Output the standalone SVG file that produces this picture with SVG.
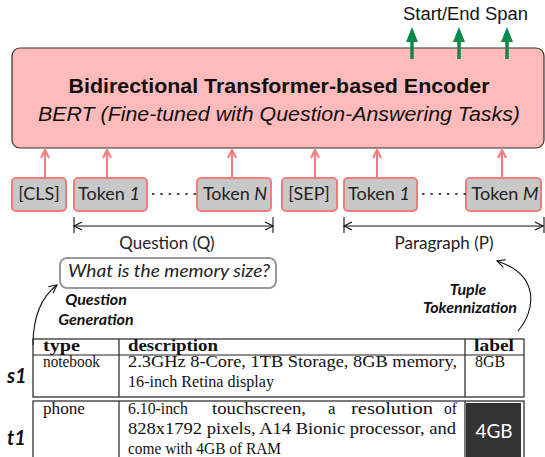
<svg xmlns="http://www.w3.org/2000/svg" width="545" height="457" viewBox="0 0 545 457">
<style>
.sans{font-family:"Liberation Sans",Arial,sans-serif;}
.hum{font-family:Lato,"Noto Sans",sans-serif;}
.ser{font-family:"Liberation Serif","DejaVu Serif",serif;font-size:16px;fill:#111;}
.tok rect{fill:#c8c8c8;stroke:#f27c7c;stroke-width:2;}
.tok text{font-family:Lato,"Noto Sans",sans-serif;font-size:18px;fill:#222;text-anchor:middle;}
.pink{stroke:#f27c7c;stroke-width:2;fill:none;}
.green{stroke:#0b8a4a;stroke-width:3.5;fill:none;}
.dim{stroke:#111;stroke-width:1.1;fill:none;}
.tbl{stroke:#222;stroke-width:1.2;fill:none;}
.bi{font-family:Lato,"Noto Sans",sans-serif;font-weight:bold;font-style:italic;fill:#111;}
</style>
<defs>
<marker id="ph" markerUnits="userSpaceOnUse" markerWidth="12" markerHeight="12" refX="9" refY="6" orient="auto"><path d="M1,2 L9,6 L1,10" fill="none" stroke="#f27c7c" stroke-width="2"/></marker>
<marker id="gh" markerUnits="userSpaceOnUse" markerWidth="16" markerHeight="14" refX="6" refY="6" orient="auto"><path d="M0,0 L15,6 L0,12 z" fill="#0b8a4a"/></marker>
<marker id="dh" markerUnits="userSpaceOnUse" markerWidth="12" markerHeight="12" refX="9" refY="6" orient="auto-start-reverse"><path d="M1,2 L9,6 L1,10" fill="none" stroke="#111" stroke-width="1.1"/></marker>
<marker id="ch" markerUnits="userSpaceOnUse" markerWidth="12" markerHeight="12" refX="9" refY="6" orient="auto"><path d="M1,2 L9,6 L1,10" fill="none" stroke="#111" stroke-width="1.1"/></marker>
</defs>

<text class="sans" x="403" y="20" font-size="17.5" textLength="125" lengthAdjust="spacingAndGlyphs" fill="#111">Start/End Span</text>

<g id="encoder">
<rect x="12" y="48" width="532" height="100" rx="8" fill="#ffbbbb" stroke="#333" stroke-width="1.2"/>
<text class="sans" x="279" y="93" font-size="20" font-weight="bold" text-anchor="middle" textLength="421" lengthAdjust="spacingAndGlyphs" fill="#111">Bidirectional Transformer-based Encoder</text>
<text class="sans" x="279" y="121" font-size="20" font-style="italic" text-anchor="middle" textLength="482" lengthAdjust="spacingAndGlyphs" fill="#111">BERT (Fine-tuned with Question-Answering Tasks)</text>
</g>

<g id="tok-cls" class="tok"><rect x="12" y="178" width="54" height="33" rx="4"/><text x="39" y="200">[CLS]</text></g>
<g id="tok-q1" class="tok"><rect x="74" y="178" width="73" height="33" rx="4"/><text x="109" y="200">Token <tspan font-style="italic">1</tspan></text></g>
<g id="tok-qn" class="tok"><rect x="197" y="178" width="74" height="33" rx="4"/><text x="235" y="200">Token <tspan font-style="italic">N</tspan></text></g>
<g id="tok-sep" class="tok"><rect x="282" y="178" width="55" height="33" rx="4"/><text x="309" y="200">[SEP]</text></g>
<g id="tok-p1" class="tok"><rect x="344" y="178" width="73" height="33" rx="4"/><text x="379" y="200">Token <tspan font-style="italic">1</tspan></text></g>
<g id="tok-pm" class="tok"><rect x="466" y="178" width="75" height="33" rx="4"/><text x="505" y="200">Token <tspan font-style="italic">M</tspan></text></g>

<g id="question">
<rect x="60" y="258" width="216" height="30" rx="7" fill="#fff" stroke="#999" stroke-width="2"/>
<text class="hum" x="68" y="277" font-size="18" font-style="italic" fill="#222" textLength="202" lengthAdjust="spacingAndGlyphs">What is the memory size?</text>
</g>

<g id="labels">
<text class="hum" x="167" y="249" font-size="17" text-anchor="middle" fill="#222">Question (Q)</text>
<text class="hum" x="444" y="249" font-size="17" text-anchor="middle" fill="#222">Paragraph (P)</text>
<text class="bi" x="96" y="305" font-size="16" text-anchor="middle">Question</text>
<text class="bi" x="96" y="325" font-size="16" text-anchor="middle">Generation</text>
<text class="bi" x="468" y="295" font-size="16" text-anchor="middle">Tuple</text>
<text class="bi" x="470" y="313" font-size="16" text-anchor="middle">Tokennization</text>
<text class="bi" x="7" y="383" font-size="20">s1</text>
<text class="bi" x="7" y="445" font-size="20">t1</text>
</g>

<g id="connectors">
<line class="green" x1="412" y1="59" x2="412" y2="36" marker-end="url(#gh)"/>
<line class="green" x1="459" y1="59" x2="459" y2="36" marker-end="url(#gh)"/>
<line class="green" x1="507" y1="59" x2="507" y2="36" marker-end="url(#gh)"/>
<line class="pink" x1="45" y1="178" x2="45" y2="150" marker-end="url(#ph)"/>
<line class="pink" x1="107" y1="178" x2="107" y2="150" marker-end="url(#ph)"/>
<line class="pink" x1="232" y1="178" x2="232" y2="150" marker-end="url(#ph)"/>
<line class="pink" x1="315" y1="178" x2="315" y2="150" marker-end="url(#ph)"/>
<line class="pink" x1="377" y1="178" x2="377" y2="150" marker-end="url(#ph)"/>
<line class="pink" x1="502" y1="178" x2="502" y2="150" marker-end="url(#ph)"/>
<line x1="148" y1="194" x2="197" y2="194" stroke="#111" stroke-width="1.7" stroke-dasharray="2.5 5.8" stroke-dashoffset="-4"/>
<line x1="418" y1="194" x2="466" y2="194" stroke="#111" stroke-width="1.7" stroke-dasharray="2.5 5.8" stroke-dashoffset="-4"/>
<line class="dim" x1="74" y1="226" x2="273" y2="226" marker-start="url(#dh)" marker-end="url(#dh)"/>
<line class="dim" x1="74" y1="217" x2="74" y2="233"/>
<line class="dim" x1="273" y1="217" x2="273" y2="233"/>
<line class="dim" x1="344" y1="226" x2="543" y2="226" marker-start="url(#dh)" marker-end="url(#dh)"/>
<line class="dim" x1="344" y1="217" x2="344" y2="233"/>
<line class="dim" x1="544" y1="217" x2="544" y2="233"/>
<path class="dim" d="M33,345 C33,318 40,298 57,285" marker-end="url(#ch)"/>
<path class="dim" d="M518,331 C536,310 540,275 497,261" marker-end="url(#ch)"/>
</g>

<g id="table-s1">
<rect class="tbl" x="33" y="339" width="491" height="58" stroke-width="1.4"/>
<line class="tbl" x1="33" y1="355" x2="524" y2="355"/>
<line class="tbl" x1="119" y1="339" x2="119" y2="397"/>
<line class="tbl" x1="465" y1="339" x2="465" y2="397"/>
<text class="ser" x="43" y="351" font-weight="bold" textLength="37" lengthAdjust="spacingAndGlyphs">type</text>
<text class="ser" x="128" y="351" font-weight="bold" textLength="90" lengthAdjust="spacingAndGlyphs">description</text>
<text class="ser" x="474" y="351" font-weight="bold" textLength="40" lengthAdjust="spacingAndGlyphs">label</text>
<text class="ser" x="43" y="367" textLength="57" lengthAdjust="spacingAndGlyphs">notebook</text>
<text class="ser" x="128" y="367" textLength="329" lengthAdjust="spacingAndGlyphs">2.3GHz 8-Core, 1TB Storage, 8GB memory,</text>
<text class="ser" x="128" y="387" textLength="146" lengthAdjust="spacingAndGlyphs">16-inch Retina display</text>
<text class="ser" x="475" y="367" textLength="30" lengthAdjust="spacingAndGlyphs">8GB</text>
</g>

<g id="table-t1">
<rect class="tbl" x="33" y="401" width="491" height="70"/>
<line class="tbl" x1="119" y1="401" x2="119" y2="457"/>
<line class="tbl" x1="465" y1="401" x2="465" y2="457"/>
<rect x="466" y="403" width="55" height="60" fill="#333"/>
<text class="ser" x="43" y="414" textLength="42" lengthAdjust="spacingAndGlyphs">phone</text>
<text class="ser" x="128" y="414" textLength="60" lengthAdjust="spacingAndGlyphs">6.10-inch</text>
<text class="ser" x="212" y="414" textLength="94" lengthAdjust="spacingAndGlyphs">touchscreen,</text>
<text class="ser" x="328" y="414" textLength="7.5" lengthAdjust="spacingAndGlyphs">a</text>
<text class="ser" x="351" y="414" textLength="82" lengthAdjust="spacingAndGlyphs">resolution</text>
<text class="ser" x="444" y="414" textLength="13" lengthAdjust="spacingAndGlyphs">of</text>
<text class="ser" x="128" y="434" textLength="328" lengthAdjust="spacingAndGlyphs">828x1792 pixels, A14 Bionic processor, and</text>
<text class="ser" x="128" y="454" textLength="153" lengthAdjust="spacingAndGlyphs">come with 4GB of RAM</text>
<text class="hum" x="494" y="438" font-size="19" text-anchor="middle" fill="#fff">4GB</text>
</g>
</svg>
